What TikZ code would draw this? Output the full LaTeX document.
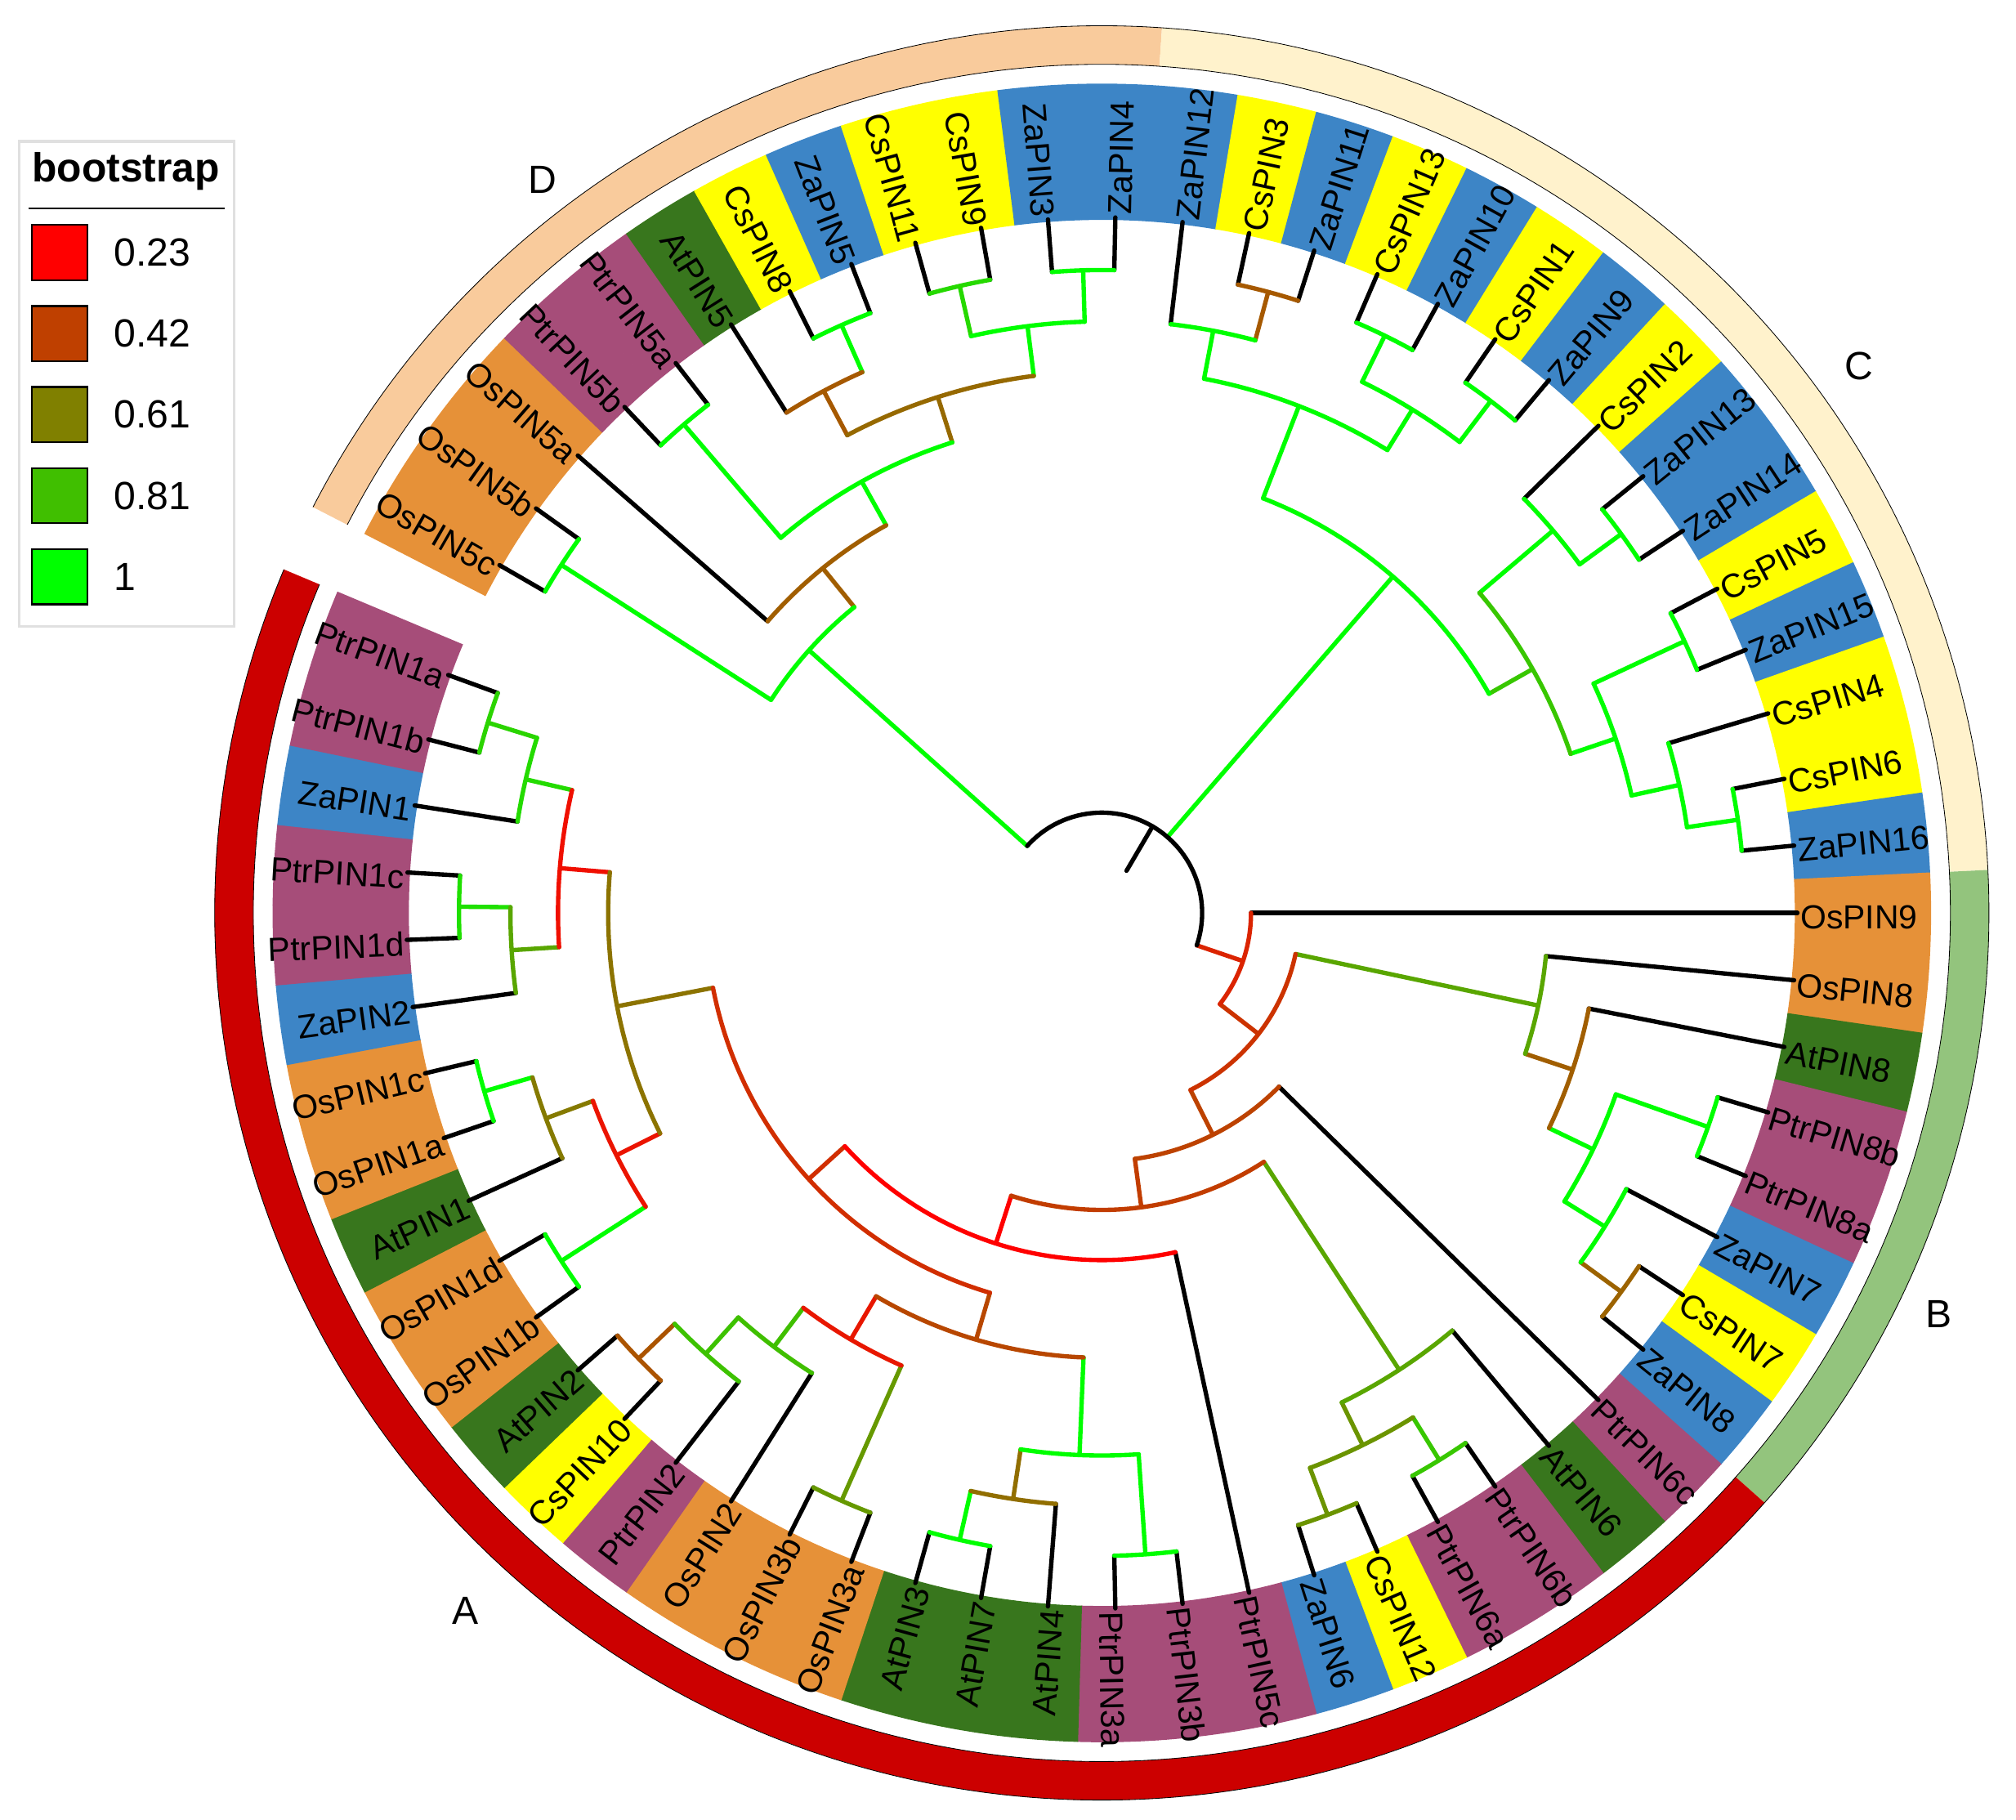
\documentclass[tikz,border=0pt]{standalone}
\usepackage{fontspec}
\setmainfont{Liberation Sans}
\usepackage{tikz}

\definecolor{ptr}{HTML}{A64D79}
\definecolor{za}{HTML}{3D85C6}
\definecolor{cs}{HTML}{FFFF00}
\definecolor{at}{HTML}{38761D}
\definecolor{os}{HTML}{E69138}
\definecolor{grpA}{HTML}{CC0000}
\definecolor{grpB}{HTML}{93C47D}
\definecolor{grpC}{HTML}{FFF2CC}
\definecolor{grpD}{HTML}{F9CB9C}

\begin{document}
\begin{tikzpicture}[
  x=0.1mm, y=0.1mm,
  branch/.style={line width=0.34mm, line cap=round, line join=round},
  lbl/.style={font=\fontsize{7.4}{8}\selectfont, inner sep=0.5pt, text height=0.72em, text depth=0pt},
  key/.style={font=\fontsize{8.7}{10}\selectfont},
  swatch/.style={draw, line width=0.4pt, minimum size=4.3mm, inner sep=0pt},
  ring/.style={draw=black, line width=0.15pt}
]
\useasboundingbox (-857,-705) rectangle (711,710);

% legend
\draw[black!12, line width=0.2mm] (-842,600) rectangle (-675,223);
\node[key] (legtitle) at (-759,577) {\fontsize{9}{10}\selectfont\bfseries bootstrap};
\draw[line width=0.15mm] (-835,548) -- (-682,548);
\foreach \k/\v/\col in {0/0.23/red, 1/0.42/red!75!green, 2/0.61/red!50!green, 3/0.81/red!25!green, 4/1/green}{
  \node[swatch, fill=\col] (sw\k) at (-810.5,{513.5-\k*63}) {};
  \node[key, anchor=west, inner sep=0pt] (val\k) at (-769,{513.5-\k*63}) {\v};
}

% group rings
\foreach \s/\e/\col in {152.778/86.111/grpD, 86.111/2.778/grpC, 2.778/-41.667/grpB, -41.667/-202.778/grpA}{
  \fill[fill=\col] (\s:660) arc[start angle=\s, end angle=\e, radius=660]
    -- (\e:690) arc[start angle=\e, end angle=\s, radius=690] -- cycle;
  \draw[ring] (\s:660) arc[start angle=\s, end angle=\e, radius=660];
  \draw[ring] (\s:690) arc[start angle=\s, end angle=\e, radius=690];
}
\node[key] (labA) at (-495,-543) {A};
\node[key] (labB) at (651,-312) {B};
\node[key] (labC) at (589,425) {C};
\node[key] (labD) at (-435,570) {D};

% leaves
\foreach \j/\nm/\sp/\rp in {
  0/OsPIN5c/os/500, 1/OsPIN5b/os/500, 2/OsPIN5a/os/345, 3/PtrPIN5b/ptr/500,
  4/PtrPIN5a/ptr/500, 5/AtPIN5/at/460, 6/CsPIN8/cs/500, 7/ZaPIN5/za/500,
  8/CsPIN11/cs/500, 9/CsPIN9/cs/500, 10/ZaPIN3/za/500, 11/ZaPIN4/za/500,
  12/ZaPIN12/za/461, 13/CsPIN3/cs/500, 14/ZaPIN11/za/500, 15/CsPIN13/cs/500,
  16/ZaPIN10/za/500, 17/CsPIN1/cs/500, 18/ZaPIN9/za/500, 19/CsPIN2/cs/460,
  20/ZaPIN13/za/500, 21/ZaPIN14/za/500, 22/CsPIN5/cs/500, 23/ZaPIN15/za/500,
  24/CsPIN4/cs/460, 25/CsPIN6/cs/500, 26/ZaPIN16/za/500, 27/OsPIN9/os/116,
  28/OsPIN8/os/347, 29/AtPIN8/at/386, 30/PtrPIN8b/ptr/500, 31/PtrPIN8a/ptr/500,
  32/ZaPIN7/za/461, 33/CsPIN7/cs/500, 34/ZaPIN8/za/500, 35/PtrPIN6c/ptr/193,
  36/AtPIN6/at/424, 37/PtrPIN6b/ptr/500, 38/PtrPIN6a/ptr/500, 39/CsPIN12/cs/500,
  40/ZaPIN6/za/500, 41/PtrPIN5c/ptr/270, 42/PtrPIN3b/ptr/500, 43/PtrPIN3a/ptr/500,
  44/AtPIN4/at/461, 45/AtPIN7/at/500, 46/AtPIN3/at/500, 47/OsPIN3a/os/500,
  48/OsPIN3b/os/500, 49/OsPIN2/os/423, 50/PtrPIN2/ptr/461, 51/CsPIN10/cs/500,
  52/AtPIN2/at/500, 53/OsPIN1b/os/500, 54/OsPIN1d/os/500, 55/AtPIN1/at/461,
  56/OsPIN1a/os/500, 57/OsPIN1c/os/500, 58/ZaPIN2/za/460, 59/PtrPIN1d/ptr/500,
  60/PtrPIN1c/ptr/500, 61/ZaPIN1/za/460, 62/PtrPIN1b/ptr/500, 63/PtrPIN1a/ptr/500}{
  \pgfmathsetmacro\ta{150-\j*50/9}
  \pgfmathsetmacro\lft{cos(\ta)<0 ? 1 : 0}
  \fill[fill=\sp] ({\ta-2.8}:539) arc[start angle=\ta-2.8, end angle=\ta+2.8, radius=539]
    -- ({\ta+2.8}:645) arc[start angle=\ta+2.8, end angle=\ta-2.8, radius=645] -- cycle;
  \ifdim\lft pt>0.5pt
    \node[lbl, rotate=\ta+180, anchor=east] (\nm) at (\ta:541) {\nm};
    \draw[branch] (\ta:\rp) -- (\nm.east);
  \else
    \node[lbl, rotate=\ta, anchor=west] (\nm) at (\ta:541) {\nm};
    \draw[branch] (\ta:\rp) -- (\nm.west);
  \fi
}

% inner nodes: name / first child / last child / radius / parent radius / colour
\foreach \nm/\ca/\cb/\rn/\rp/\col in {
  daOs5/150/144.444/500/306/green, dPtr5/133.333/127.778/500/384/green,
  dCs8/116.667/111.111/500/460/green, dE/122.222/113.889/460/421/red!65!green,
  dCs11/105.556/100/500/460/red!15!green, dZa3/94.444/88.889/500/460/green,
  dF/102.778/91.667/460/421/green, dD/118.056/97.222/421/384/red!59!green,
  dC/130.556/107.639/384/345/green, dB/138.889/119.097/345/306/red!63!green,
  nD/147.222/128.993/306/78/green,
  cCs3/77.778/72.222/500/461/red!65!green, c1a/83.333/75/461/423/green,
  cCs13/66.667/61.111/500/460/green, cCs1/55.556/50/500/460/green,
  c1b/63.889/52.778/460/423/green, c1/79.167/58.333/423/346/green,
  cZa13/38.889/33.333/500/460/green, c2a/44.444/36.111/460/385/green,
  cCs5/27.778/22.222/500/422/green, cCs6/11.111/5.556/500/460/green,
  c2c/16.667/8.333/460/422/green, c2b/25/12.5/422/385/green,
  c2/40.278/18.75/385/346/red!22!green, nC/68.75/29.514/346/78/green,
  bPtr8/-16.667/-22.222/500/424/green, bCs7/-33.333/-38.889/500/461/red!61!green,
  b4/-27.778/-36.111/461/424/green, b3/-19.444/-31.944/424/386/green,
  b2/-11.111/-25.694/386/347/red!63!green, nB/-5.556/-18.403/347/154/red!35!green,
  aPtr6/-55.556/-61.111/500/461/red!22!green, aCs12/-66.667/-72.222/500/461/red!42!green,
  a7/-58.333/-69.444/461/424/red!42!green, a6/-50/-63.889/424/231/red!35!green,
  aAt2/-133.333/-138.889/500/461/red!67!green, aQ/-136.111/-127.778/461/423/red!24!green,
  a5/-131.944/-122.222/423/385/red!25!green, aOs3/-111.111/-116.667/500/385/red!40!green,
  a4/-127.083/-113.889/385/346/red!91!green, aAt3/-100/-105.556/500/461/green,
  aAt4/-102.778/-94.444/461/422/red!57!green, aPtr3/-83.333/-88.889/500/422/green,
  aAt/-98.611/-86.111/422/346/green, a3/-120.486/-92.361/346/308/red!72!green,
  aOs1c/-161.111/-166.667/500/461/green, aP5/-163.889/-155.556/461/422/red!52!green,
  aOs1d/-144.444/-150/500/422/green, aP4/-159.722/-147.222/422/384/red!92!green,
  aPtr1c/-177.778/-183.333/500/460/red!12!green, aP3/-172.222/-180.556/460/423/red!35!green,
  aPtr1a/-194.444/-200/500/460/red!17!green, aP2/-188.889/-197.222/460/423/red!14!green,
  aP1/-176.389/-193.056/423/384/red!94!green, aUp/-153.472/-184.722/384/308/red!55!green,
  nA/-169.097/-106.424/308/270/red!82!green, r5/-137.76/-77.778/270/231/red,
  r4/-56.944/-107.769/231/193/red!76!green, r3/-44.444/-82.357/193/154/red!74!green,
  r2/-11.979/-63.4/154/116/red!80!green, nR/0/-37.69/116/78/red!86!green}{
  \pgfmathsetmacro\tm{(\ca+\cb)/2}
  \coordinate (\nm) at (\tm:\rn);
  \draw[branch, color=\col] (\tm:\rp) -- (\nm)
    (\ca:\rn) arc[start angle=\ca, end angle=\cb, radius=\rn];
}

% root
\coordinate (root) at (59.63:78);
\draw[branch] (59.63:38) -- (root);
\draw[branch] (138.108:78) arc[start angle=138.108, end angle=-18.845, radius=78];
\end{tikzpicture}
\end{document}
